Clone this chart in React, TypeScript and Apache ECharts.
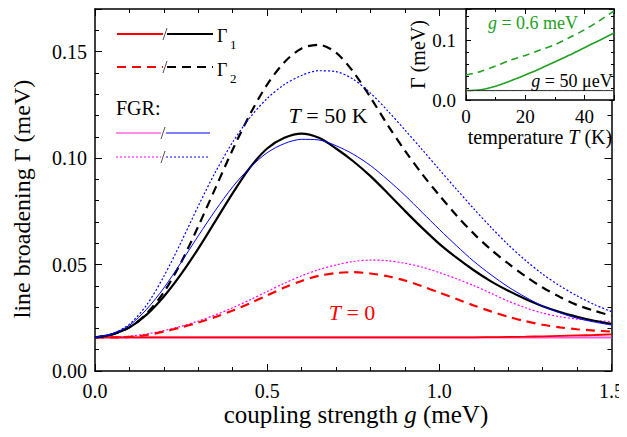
import React, { useEffect, useRef } from "react";
import * as echarts from "echarts";

// coupling strength g (meV), 0 … 1.5 in steps of 0.05
const gValues = [
  0, 0.05, 0.1, 0.15, 0.2, 0.25, 0.3, 0.35, 0.4, 0.45, 0.5, 0.55, 0.6, 0.65, 0.7, 0.75,
  0.8, 0.85, 0.9, 0.95, 1.0, 1.05, 1.1, 1.15, 1.2, 1.25, 1.3, 1.35, 1.4, 1.45, 1.5,
];

// T = 0
const gamma1T0 = [
  0.0158, 0.0158, 0.0158, 0.0158, 0.0158, 0.0158, 0.0158, 0.0158, 0.0158, 0.0158, 0.0158,
  0.0158, 0.0158, 0.0158, 0.0158, 0.0158, 0.0158, 0.0158, 0.0158, 0.0158, 0.0158, 0.0158,
  0.0158, 0.0159, 0.016, 0.0161, 0.0163, 0.0165, 0.0167, 0.0169, 0.0172,
];
const gamma2T0 = [
  0.0158, 0.0158, 0.016, 0.0169, 0.0185, 0.0205, 0.0228, 0.0254, 0.0284, 0.0318, 0.0355,
  0.0392, 0.0423, 0.0447, 0.046, 0.0464, 0.0458, 0.0445, 0.0425, 0.0398, 0.0368, 0.0338,
  0.0308, 0.028, 0.0255, 0.0234, 0.0217, 0.0205, 0.0196, 0.019, 0.0185,
];
const fgr1T0 = [
  0.0157, 0.0157, 0.0157, 0.0157, 0.0157, 0.0157, 0.0157, 0.0157, 0.0157, 0.0157, 0.0157,
  0.0157, 0.0157, 0.0157, 0.0157, 0.0157, 0.0157, 0.0157, 0.0157, 0.0157, 0.0157, 0.0157,
  0.0157, 0.0157, 0.0157, 0.0157, 0.0157, 0.0157, 0.0157, 0.0157, 0.0157,
];
const fgr2T0 = [
  0.0158, 0.0159, 0.0163, 0.0174, 0.019, 0.021, 0.0235, 0.0264, 0.0297, 0.0334, 0.0373,
  0.0412, 0.0447, 0.0476, 0.0498, 0.0514, 0.0521, 0.0518, 0.0506, 0.0488, 0.0462, 0.0433,
  0.0401, 0.0365, 0.0328, 0.0297, 0.0272, 0.0255, 0.0244, 0.0237, 0.0232,
];

// T = 50 K
const gamma1T50 = [
  0.0158, 0.0172, 0.0205, 0.0265, 0.035, 0.0455, 0.0575, 0.0705, 0.0835, 0.0955, 0.1045,
  0.1095, 0.1115, 0.1095, 0.1045, 0.0985, 0.0915, 0.0835, 0.0752, 0.0672, 0.0597, 0.0532,
  0.0473, 0.0421, 0.0377, 0.0338, 0.0304, 0.0277, 0.0255, 0.0236, 0.0221,
];
const gamma2T50 = [
  0.0158, 0.0172, 0.0205, 0.027, 0.037, 0.051, 0.068, 0.086, 0.104, 0.1205, 0.1345,
  0.145, 0.1515, 0.1532, 0.1495, 0.1405, 0.1285, 0.1155, 0.1035, 0.0925, 0.0825, 0.073,
  0.0645, 0.057, 0.0505, 0.0445, 0.0392, 0.0348, 0.031, 0.0283, 0.0259,
];
const fgr1T50 = [
  0.0158, 0.0175, 0.0215, 0.029, 0.039, 0.051, 0.0635, 0.0755, 0.0865, 0.0955, 0.1025,
  0.1068, 0.1088, 0.1085, 0.1058, 0.1018, 0.0965, 0.0898, 0.0825, 0.0745, 0.0665, 0.0588,
  0.0515, 0.0452, 0.0395, 0.0347, 0.0305, 0.0273, 0.0248, 0.023, 0.0216,
];
const fgr2T50 = [
  0.0158, 0.0175, 0.022, 0.031, 0.0445, 0.0605, 0.0775, 0.0935, 0.1075, 0.119, 0.128,
  0.1345, 0.1388, 0.141, 0.1406, 0.137, 0.1305, 0.1222, 0.1132, 0.104, 0.0946, 0.0853,
  0.0762, 0.0675, 0.0593, 0.052, 0.0455, 0.04, 0.0353, 0.0312, 0.0279,
];

// inset: temperature T (K)
const tValues = [0, 5, 10, 15, 20, 25, 30, 35, 40, 45, 50];
const g06Gamma1 = [0.016, 0.0172, 0.023, 0.032, 0.042, 0.0525, 0.064, 0.0755, 0.088, 0.1, 0.1125];
const g06Gamma2 = [0.042, 0.048, 0.057, 0.067, 0.075, 0.084, 0.093, 0.105, 0.118, 0.133, 0.15];
const g50Gamma1 = [0.0158, 0.0158, 0.0158, 0.0158, 0.0158, 0.0158, 0.0158, 0.0158, 0.0158, 0.0158, 0.0158];
const g50Gamma2 = [0.0161, 0.0161, 0.0161, 0.0161, 0.0161, 0.0161, 0.0161, 0.0161, 0.0161, 0.0161, 0.0161];

const FONT = "Liberation Serif, Times New Roman, serif";
const GREEN = "#22a022";
const DASH = [9, 6];
const DOT = [2, 2];

const pairs = (xs: number[], ys: number[]) => xs.map((x, i) => [x, ys[i]]);

function line(
  name: string,
  xs: number[],
  ys: number[],
  color: string,
  width: number,
  type: any,
  xi: number,
  yi: number,
  z = 2
) {
  return {
    name,
    type: "line",
    xAxisIndex: xi,
    yAxisIndex: yi,
    data: pairs(xs, ys),
    smooth: 0.3,
    symbol: "none",
    z,
    lineStyle: { color, width, type },
  };
}

const tickStyle = { color: "#000", width: 1 };

function axisBase(extra: any) {
  return {
    type: "value",
    axisLine: { show: true, onZero: false, lineStyle: { color: "#000", width: 1.5 } },
    axisTick: { show: true, inside: true, length: 7, lineStyle: tickStyle },
    minorTick: { show: true, splitNumber: 5, length: 4, lineStyle: tickStyle },
    splitLine: { show: false },
    axisLabel: { show: false },
    ...extra,
  };
}

export default function App() {
  const ref = useRef<HTMLDivElement>(null);

  useEffect(() => {
    if (!ref.current) return;
    const chart = echarts.init(ref.current, undefined, { renderer: "svg" });

    const label = (fontSize: number, extra: any = {}) => ({
      show: true,
      color: "#000",
      fontFamily: FONT,
      fontSize,
      ...extra,
    });

    const legendY = [34, 67, 133, 157];
    const legendLine = (x1: number, x2: number, y: number, stroke: string, w: number, dash?: number[]) => ({
      type: "line",
      shape: { x1, y1: y, x2, y2: y },
      style: { stroke, lineWidth: w, lineDash: dash || null },
      z: 10,
    });
    const slash = (x: number, y: number) => ({
      type: "line",
      shape: { x1: x - 2, y1: y + 6, x2: x + 2, y2: y - 6 },
      style: { stroke: "#555", lineWidth: 1 },
      z: 10,
    });
    const txt = (x: number, y: number, text: string, fontSize: number, fill = "#000", extra: any = {}, rotation = 0) => ({
      type: "text",
      x,
      y,
      rotation,
      z: 10,
      style: {
        text,
        fill,
        fontFamily: FONT,
        fontSize,
        align: "left",
        verticalAlign: "middle",
        ...extra,
      },
    });
    const italicRich = (size: number, fill: string) => ({
      i: { fontFamily: FONT, fontSize: size, fontStyle: "italic", fill, color: fill },
    });

    chart.setOption({
      animation: false,
      backgroundColor: "#fff",
      grid: [
        { left: 95, right: 13, top: 9, bottom: 66 },
        { left: 466, right: 13, top: 9, bottom: 337, show: true, backgroundColor: "#fff", borderWidth: 0, z: 3 },
      ],
      xAxis: [
        axisBase({
          gridIndex: 0,
          position: "bottom",
          min: 0,
          max: 1.5,
          interval: 0.5,
          axisLabel: label(20, { margin: 10, formatter: (v: number) => v.toFixed(1) }),
        }),
        axisBase({ gridIndex: 0, position: "top", min: 0, max: 1.5, interval: 0.5 }),
        axisBase({
          gridIndex: 1,
          position: "bottom",
          min: 0,
          max: 50,
          interval: 20,
          axisTick: { show: true, inside: true, length: 5, lineStyle: tickStyle },
          minorTick: { show: true, splitNumber: 2, length: 3, lineStyle: tickStyle },
          axisLabel: label(19, { margin: 7, formatter: (v: number) => (v > 45 ? "" : String(v)) }),
          name: "temperature {i|T} (K)",
          nameLocation: "middle",
          nameGap: 26,
          nameTextStyle: {
            fontFamily: FONT,
            fontSize: 20,
            color: "#000",
            rich: italicRich(20, "#000"),
          },
          z: 4,
        }),
        axisBase({
          gridIndex: 1,
          position: "top",
          min: 0,
          max: 50,
          interval: 20,
          axisTick: { show: true, inside: true, length: 5, lineStyle: tickStyle },
          minorTick: { show: true, splitNumber: 2, length: 3, lineStyle: tickStyle },
          z: 4,
        }),
      ],
      yAxis: [
        axisBase({
          gridIndex: 0,
          position: "left",
          min: 0,
          max: 0.17,
          interval: 0.05,
          axisLabel: label(20, { margin: 8, formatter: (v: number) => (v > 0.16 ? "" : v.toFixed(2)) }),
        }),
        axisBase({ gridIndex: 0, position: "right", min: 0, max: 0.17, interval: 0.05 }),
        axisBase({
          gridIndex: 1,
          position: "left",
          min: 0,
          max: 0.153,
          interval: 0.1,
          axisTick: { show: true, inside: true, length: 5, lineStyle: tickStyle },
          minorTick: { show: true, splitNumber: 5, length: 3, lineStyle: tickStyle },
          axisLabel: label(19, { margin: 10, formatter: (v: number) => (v > 0.12 ? "" : v.toFixed(1)) }),
          name: "Γ (meV)",
          nameLocation: "middle",
          nameGap: 33,
          nameTextStyle: { fontFamily: FONT, fontSize: 20, color: "#000" },
          z: 4,
        }),
        axisBase({
          gridIndex: 1,
          position: "right",
          min: 0,
          max: 0.153,
          interval: 0.1,
          axisTick: { show: true, inside: true, length: 5, lineStyle: tickStyle },
          minorTick: { show: true, splitNumber: 5, length: 3, lineStyle: tickStyle },
          z: 4,
        }),
      ],
      series: [
        line("FGR Γ1 T=0", gValues, fgr1T0, "#ff55dd", 2, "solid", 0, 0, 2),
        line("Γ1 T=0", gValues, gamma1T0, "#ff0000", 1.8, "solid", 0, 0, 3),
        line("FGR Γ2 T=0", gValues, fgr2T0, "#ff00ff", 1.2, DOT, 0, 0, 2),
        line("Γ2 T=0", gValues, gamma2T0, "#ff0000", 2.2, DASH, 0, 0, 3),
        line("Γ1 T=50", gValues, gamma1T50, "#000000", 2.2, "solid", 0, 0, 3),
        line("FGR Γ1 T=50", gValues, fgr1T50, "#0000ff", 1, "solid", 0, 0, 4),
        line("Γ2 T=50", gValues, gamma2T50, "#000000", 2.2, DASH, 0, 0, 3),
        line("FGR Γ2 T=50", gValues, fgr2T50, "#0000ff", 1.2, DOT, 0, 0, 4),
        line("g=0.6 Γ1", tValues, g06Gamma1, GREEN, 1.6, "solid", 2, 2, 5),
        line("g=0.6 Γ2", tValues, g06Gamma2, GREEN, 1.6, [7, 5], 2, 2, 5),
        line("g=50 Γ1", tValues, g50Gamma1, "#222", 1, "solid", 2, 2, 5),
        line("g=50 Γ2", tValues, g50Gamma2, "#444", 1, [4, 3], 2, 2, 5),
      ],
      graphic: [
        // main axis names
        txt(356, 414, "coupling strength {i|g} (meV)", 25, "#000", { align: "center", rich: italicRich(25, "#000") }),
        txt(22, 199, "line broadening Γ (meV)", 24, "#000", { align: "center" }, Math.PI / 2),
        // legend
        legendLine(117, 163, legendY[0], "#ff0000", 2, undefined),
        slash(165, legendY[0]),
        legendLine(167, 213, legendY[0], "#000", 2, undefined),
        txt(217, 36, "Γ", 18),
        txt(230, 44, "1", 13),
        legendLine(117, 163, legendY[1], "#ff0000", 2, DASH),
        slash(165, legendY[1]),
        legendLine(167, 213, legendY[1], "#000", 2, DASH),
        txt(217, 70, "Γ", 18),
        txt(230, 78, "2", 13),
        txt(116, 108, "FGR:", 20),
        legendLine(116, 161, legendY[2], "#ff66dd", 1.5, undefined),
        slash(163, legendY[2]),
        legendLine(166, 210, legendY[2], "#5555ff", 1.5, undefined),
        legendLine(116, 161, legendY[3], "#ff00ff", 1.2, DOT),
        slash(163, legendY[3]),
        legendLine(166, 210, legendY[3], "#0000ff", 1.2, DOT),
        // curve annotations
        txt(328, 115, "{i|T} = 50 K", 22, "#000", { align: "center", rich: italicRich(22, "#000") }),
        txt(352, 312, "{i|T} = 0", 22, "#ff0000", { align: "center", rich: italicRich(22, "#ff0000") }),
        txt(533, 23, "{i|g} = 0.6 meV", 18, GREEN, { align: "center", rich: italicRich(18, GREEN) }),
        txt(572, 81, "{i|g} = 50 μeV", 18, "#000", { align: "center", rich: italicRich(18, "#000") }),
      ],
    });

    return () => chart.dispose();
  }, []);

  return <div ref={ref} style={{ width: 627, height: 437, margin: -8 }} />;
}
